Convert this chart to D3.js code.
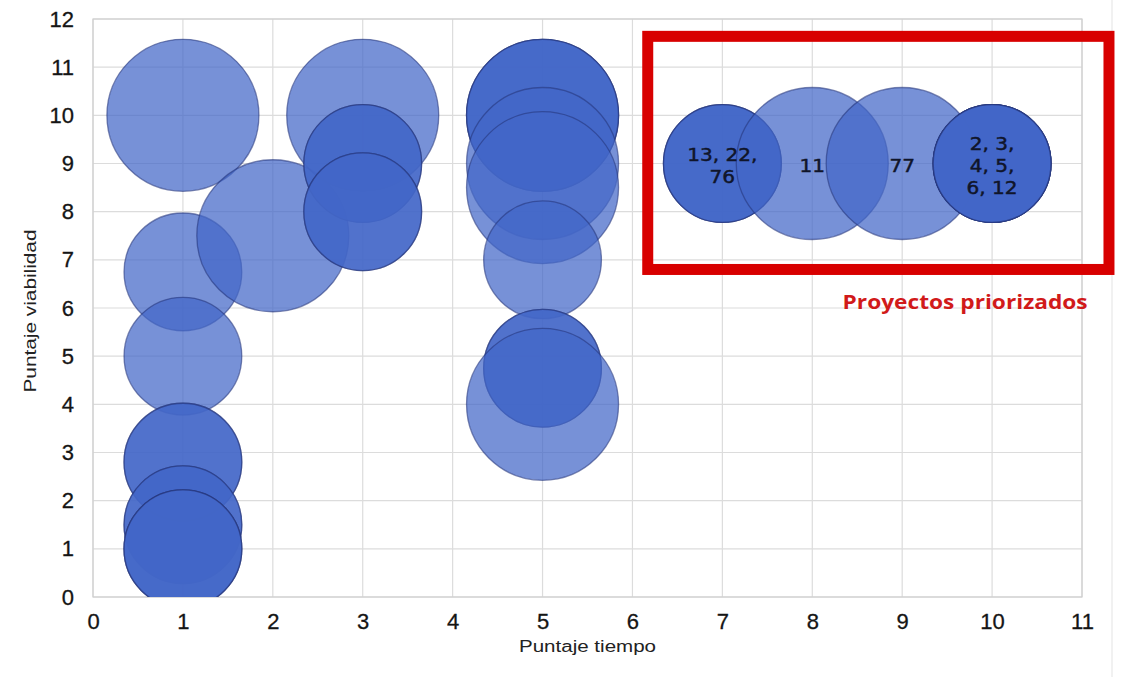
<!DOCTYPE html>
<html>
<head>
<meta charset="utf-8">
<script src="https://cdn.jsdelivr.net/npm/d3@7"></script>
<style>
  body { margin: 0; background: #fff; }
  svg { display: block; }
</style>
</head>
<body>
<script>
// una burbuja por punto; "proyectos" = cuantos proyectos caen en el mismo punto (se apilan)
const tiempo     = [1, 1, 1, 1, 1, 1, 2, 3, 3, 3, 5, 5, 5, 5, 5, 5, 7, 8, 9, 10];
const viabilidad = [10, 6.75, 5, 2.8, 1.5, 1, 7.5, 10, 9, 8, 10, 9, 8.5, 7, 4.75, 4, 9, 9, 9, 9];
const tamano     = [10, 6, 6, 6, 6, 6, 10, 10, 6, 6, 10, 10, 10, 6, 6, 10, 6, 10, 10, 6];
const proyectos  = [1, 1, 1, 2, 2, 3, 1, 1, 2, 2, 3, 1, 1, 1, 2, 1, 3, 1, 1, 6];
const etiquetas  = ['', '', '', '', '', '', '', '', '', '', '', '', '', '', '', '', '13, 22,\n76', '11', '77', '2, 3,\n4, 5,\n6, 12'];

const ticksX = [0, 1, 2, 3, 4, 5, 6, 7, 8, 9, 10, 11];
const ticksY = [0, 1, 2, 3, 4, 5, 6, 7, 8, 9, 10, 11, 12];

const tituloX = 'Puntaje tiempo';
const tituloY = 'Puntaje viabilidad';
const notaPriorizados = 'Proyectos priorizados';

const width = 1124, height = 677;
const margin = { top: 19, right: 42, bottom: 80, left: 93 };

const svg = d3.select('body').append('svg')
  .attr('width', width)
  .attr('height', height);

svg.append('rect').attr('width', width).attr('height', height).attr('fill', '#fff');

const x = d3.scaleLinear()
  .domain([0, 11])
  .range([margin.left, width - margin.right]);

const y = d3.scaleLinear()
  .domain([0, 12])
  .range([height - margin.bottom, margin.top]);

const r = d3.scaleSqrt()
  .domain([0, 10])
  .range([0, 76]);

// marco exterior tenue a la derecha
svg.append('line')
  .attr('x1', 1112).attr('x2', 1112).attr('y1', 0).attr('y2', height)
  .attr('stroke', '#ececec').attr('stroke-width', 1.5);

// rejilla
svg.append('g')
  .attr('stroke', '#dcdcdc')
  .attr('stroke-width', 1.2)
  .call(g => g.selectAll('.gx').data(ticksX).join('line')
    .attr('x1', d => x(d)).attr('x2', d => x(d))
    .attr('y1', y(0)).attr('y2', y(12)))
  .call(g => g.selectAll('.gy').data(ticksY).join('line')
    .attr('x1', x(0)).attr('x2', x(11))
    .attr('y1', d => y(d)).attr('y2', d => y(d)));

svg.append('rect')
  .attr('x', x(0)).attr('y', y(12))
  .attr('width', x(11) - x(0)).attr('height', y(0) - y(12))
  .attr('fill', 'none').attr('stroke', '#cfcfcf').attr('stroke-width', 1.2);

// ejes
const xAxis = g => g
  .attr('transform', `translate(0,${y(0)})`)
  .call(d3.axisBottom(x).tickValues(ticksX).tickSize(0).tickPadding(16).tickFormat(d3.format('d')))
  .call(g => g.select('.domain').remove());

const yAxis = g => g
  .attr('transform', `translate(${x(0)},0)`)
  .call(d3.axisLeft(y).tickValues(ticksY).tickSize(0).tickPadding(19).tickFormat(d3.format('d')))
  .call(g => g.select('.domain').remove());

svg.append('g').call(xAxis);
svg.append('g').call(yAxis);

svg.selectAll('.tick text')
  .attr('font-family', '"Liberation Sans", Arial, sans-serif')
  .attr('font-size', 22)
  .attr('fill', '#151515')
  .attr('stroke', '#151515')
  .attr('stroke-width', 0.3);

// burbujas (clip al area del grafico)
svg.append('clipPath').attr('id', 'area')
  .append('rect')
  .attr('x', x(0)).attr('y', y(12))
  .attr('width', x(11) - x(0)).attr('height', y(0) - y(12));

const burbujas = [];
tiempo.forEach((t, i) => {
  for (let k = 0; k < proyectos[i]; k++) {
    burbujas.push({ t, v: viabilidad[i], s: tamano[i] });
  }
});

svg.append('g')
  .attr('clip-path', 'url(#area)')
  .selectAll('circle')
  .data(burbujas)
  .join('circle')
  .attr('cx', d => x(d.t))
  .attr('cy', d => y(d.v))
  .attr('r', d => r(d.s))
  .attr('fill', 'rgb(66,102,200)')
  .attr('fill-opacity', 0.72)
  .attr('stroke', 'rgb(38,55,125)')
  .attr('stroke-opacity', 0.6)
  .attr('stroke-width', 1.3);

// etiquetas de burbujas
function estirar(sel, f) {
  sel.each(function() {
    const l = this.getComputedTextLength();
    d3.select(this).attr('textLength', l * f).attr('lengthAdjust', 'spacingAndGlyphs');
  });
}

const lineaAlto = 22;
tiempo.forEach((t, i) => {
  if (!etiquetas[i]) return;
  const lineas = etiquetas[i].split('\n');
  const y0 = y(viabilidad[i]) + 2 - (lineas.length - 1) * lineaAlto / 2;
  lineas.forEach((txt, j) => {
    svg.append('text')
      .attr('x', x(t))
      .attr('y', y0 + j * lineaAlto)
      .attr('dy', '0.36em')
      .attr('text-anchor', 'middle')
      .attr('font-family', '"DejaVu Sans", sans-serif')
      .attr('font-size', 17)
      .attr('fill', '#10152a')
      .attr('stroke', '#10152a')
      .attr('stroke-width', 0.45)
      .text(txt)
      .call(estirar, 1.18);
  });
});

// caja de proyectos priorizados
const caja = { x0: 6.17, x1: 11.3, y0: 6.8, y1: 11.64 };
svg.append('rect')
  .attr('x', x(caja.x0)).attr('y', y(caja.y1))
  .attr('width', x(caja.x1) - x(caja.x0))
  .attr('height', y(caja.y0) - y(caja.y1))
  .attr('fill', 'none')
  .attr('stroke', '#d80000')
  .attr('stroke-width', 11);

svg.append('text')
  .attr('x', x(9.7))
  .attr('y', y(5.97))
  .attr('text-anchor', 'middle')
  .attr('font-family', '"Open Sans", sans-serif')
  .attr('font-weight', 'bold')
  .attr('font-size', 20)
  .attr('fill', '#d11a1a')
  .attr('textLength', 245)
  .attr('lengthAdjust', 'spacingAndGlyphs')
  .text(notaPriorizados);

// titulos de ejes
svg.append('text')
  .attr('x', (x(0) + x(11)) / 2)
  .attr('y', 652)
  .attr('text-anchor', 'middle')
  .attr('font-family', '"Liberation Sans", Arial, sans-serif')
  .attr('font-size', 16)
  .attr('fill', '#222')
  .attr('textLength', 137)
  .attr('lengthAdjust', 'spacingAndGlyphs')
  .text(tituloX);

svg.append('text')
  .attr('transform', 'translate(36,311) rotate(-90)')
  .attr('text-anchor', 'middle')
  .attr('font-family', '"Liberation Sans", Arial, sans-serif')
  .attr('font-size', 16)
  .attr('fill', '#222')
  .attr('textLength', 163)
  .attr('lengthAdjust', 'spacingAndGlyphs')
  .text(tituloY);
</script>
</body>
</html>
